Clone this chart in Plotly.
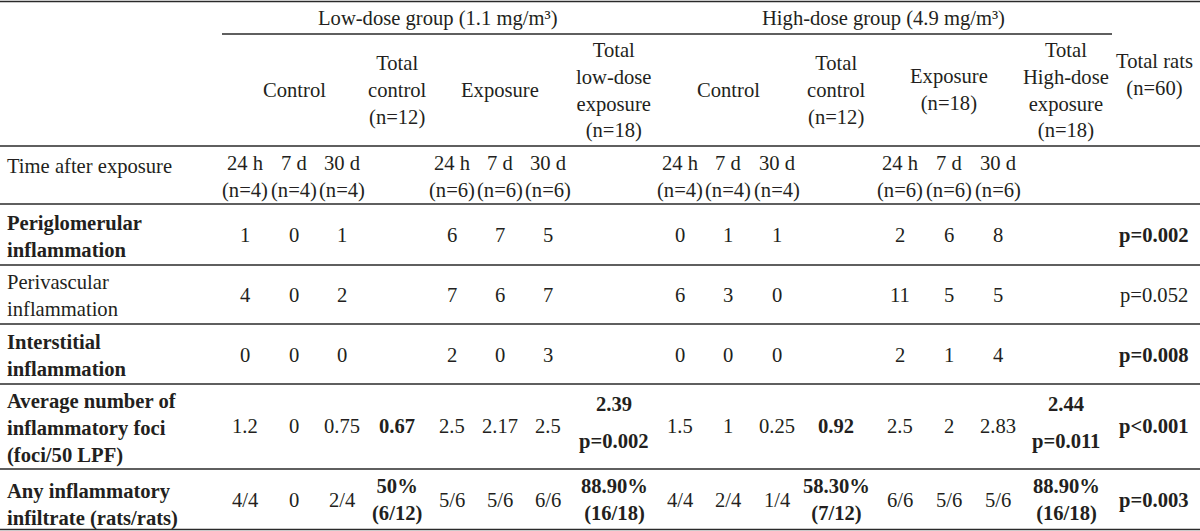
import plotly.graph_objects as go

# ---------------- data ----------------
group_headers = ["Low-dose group (1.1 mg/m³)", "High-dose group (4.9 mg/m³)"]
sub_headers = ["Control", "Total<br>control<br>(n=12)", "Exposure",
               "Total<br>low-dose<br>exposure<br>(n=18)",
               "Control", "Total<br>control<br>(n=12)", "Exposure<br>(n=18)",
               "Total<br>High-dose<br>exposure<br>(n=18)"]
total_header = "Total rats<br>(n=60)"

row_labels = ["Time after exposure",
              "<b>Periglomerular<br>inflammation</b>",
              "Perivascular<br>inflammation",
              "<b>Interstitial<br>inflammation</b>",
              "<b>Average number of<br>inflammatory foci<br>(foci/50 LPF)</b>",
              "<b>Any inflammatory<br>infiltrate (rats/rats)</b>"]

time_after = ["24 h<br>(n=4)", "7 d<br>(n=4)", "30 d<br>(n=4)", "",
              "24 h<br>(n=6)", "7 d<br>(n=6)", "30 d<br>(n=6)", "",
              "24 h<br>(n=4)", "7 d<br>(n=4)", "30 d<br>(n=4)", "",
              "24 h<br>(n=6)", "7 d<br>(n=6)", "30 d<br>(n=6)", "", ""]
periglomerular = ["1", "0", "1", "", "6", "7", "5", "",
                  "0", "1", "1", "", "2", "6", "8", "", "<b>p=0.002</b>"]
perivascular = ["4", "0", "2", "", "7", "6", "7", "",
                "6", "3", "0", "", "11", "5", "5", "", "p=0.052"]
interstitial = ["0", "0", "0", "", "2", "0", "3", "",
                "0", "0", "0", "", "2", "1", "4", "", "<b>p=0.008</b>"]
avg_foci = ["1.2", "0", "0.75", "<b>0.67</b>", "2.5", "2.17", "2.5", "",
            "1.5", "1", "0.25", "<b>0.92</b>", "2.5", "2", "2.83", "", "<b>p<0.001</b>"]
avg_foci_totals = {7: ("<b>2.39</b>", "<b>p=0.002</b>"), 15: ("<b>2.44</b>", "<b>p=0.011</b>")}
any_infiltrate = ["4/4", "0", "2/4", "<b>50%<br>(6/12)</b>", "5/6", "5/6", "6/6",
                  "<b>88.90%<br>(16/18)</b>", "4/4", "2/4", "1/4",
                  "<b>58.30%<br>(7/12)</b>", "6/6", "5/6", "5/6",
                  "<b>88.90%<br>(16/18)</b>", "<b>p=0.003</b>"]

# ---------------- layout constants ----------------
W, H = 1200, 531
FONT = "Liberation Serif, Times New Roman, serif"
FS = 20.6
TXT = "#231f20"
LINE = "#2a2a2a"

col_x = [245, 294, 342, 397, 452, 500, 548, 614,
         680, 728, 777, 836, 900, 949, 998, 1066, 1154]
group_x = [438, 883]
sub_x = [294, 397, 500, 614, 728, 836, 949, 1066]
row_y = [177, 235, 295, 355, 426, 500]
label_y = [166, 236, 295, 355, 428, 505]
hlines = [1.5, 146, 204, 265, 324, 384, 469, 529.5]

fig = go.Figure()
fig.add_trace(go.Scatter(x=[0, W], y=[0, H], mode="markers",
                         marker=dict(opacity=0), hoverinfo="skip", showlegend=False))

ann = []
def txt(x, y, t, xanchor="center", align="center"):
    ann.append(dict(x=x, y=y, text=t, showarrow=False, xref="x", yref="y",
                    xanchor=xanchor, yanchor="middle", align=align,
                    font=dict(family=FONT, size=FS, color=TXT)))

for x, t in zip(group_x, group_headers):
    txt(x, 18, t)
for x, t in zip(sub_x, sub_headers):
    txt(x, 90, t)
txt(col_x[-1], 75, total_header)

for lbl, y in zip(row_labels, label_y):
    txt(5, y, lbl, xanchor="left", align="left")

rows = [time_after, periglomerular, perivascular, interstitial, avg_foci, any_infiltrate]
for vals, y in zip(rows, row_y):
    for x, v in zip(col_x, vals):
        if v:
            txt(x, y, v)
for ci, (a, b) in avg_foci_totals.items():
    txt(col_x[ci], 404, a)
    txt(col_x[ci], 441, b)

fig.update_layout(annotations=ann)

shapes = []
for y in hlines:
    shapes.append(dict(type="line", xref="x", yref="y", x0=0, x1=W, y0=y, y1=y,
                       line=dict(color=LINE, width=1.6)))
shapes.append(dict(type="line", xref="x", yref="y", x0=222, x1=1112, y0=34, y1=34,
                   line=dict(color=LINE, width=1.3)))
fig.update_layout(shapes=shapes)

fig.update_layout(
    width=W, height=H, margin=dict(l=0, r=0, t=0, b=0),
    paper_bgcolor="white", plot_bgcolor="white",
    xaxis=dict(range=[0, W], visible=False, fixedrange=True),
    yaxis=dict(range=[H, 0], visible=False, fixedrange=True),
    showlegend=False,
)
fig.write_html("out.html", config={"displayModeBar": False},
               post_script="document.body.style.margin='0';document.body.style.overflow='hidden';")
